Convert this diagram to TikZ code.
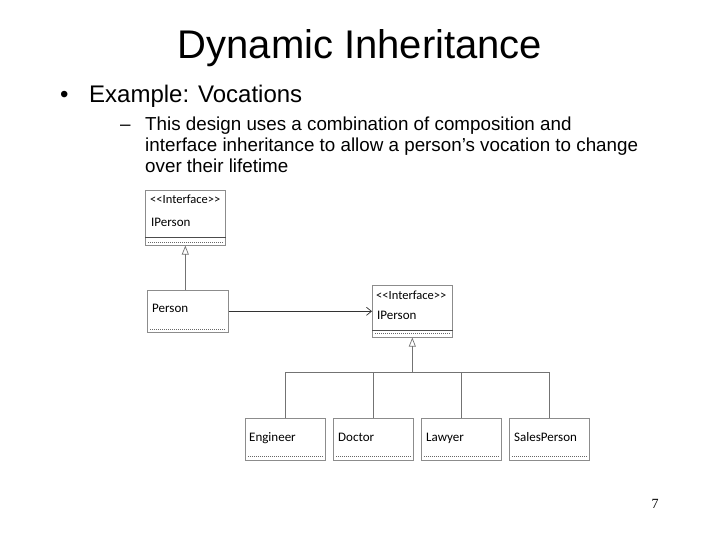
\documentclass[tikz,border=0pt]{standalone}
\usepackage{fontspec}
\setmainfont{Liberation Sans}
\newfontfamily\umlfont{Carlito}
\newfontfamily\numfont{Liberation Serif}
\usetikzlibrary{arrows.meta,calc}
\tikzset{
  box/.style={draw=black!45, line width=0.6pt, rectangle, minimum width=80pt, inner sep=0pt, anchor=north west},
  lbl/.style={anchor=base west, inner sep=0pt, font=\umlfont\fontsize{13}{15}\selectfont},
  stereo/.style={anchor=base west, inner sep=0pt, font=\umlfont\fontsize{12.5}{14}\selectfont},
  sep/.style={draw=black!70, line width=0.6pt},
  dots/.style={draw=black!60, line width=0.6pt, dash pattern=on 1pt off 1pt},
  gen/.style={draw=black!55, line width=0.7pt, -{Triangle[open, length=9pt, width=7pt]}},
  assoc/.style={draw=black!80, line width=0.7pt, -{Straight Barb[length=5pt, width=8pt]}},
  wire/.style={draw=black!55, line width=0.7pt},
  txt/.style={anchor=base west, inner sep=0pt},
  subline/.style={txt, font=\fontsize{18.8}{21}\selectfont},
}
\begin{document}
\begin{tikzpicture}[x=1pt, y=-1pt]
\useasboundingbox (0,0) rectangle (720,540);

% texts
\node[anchor=base, inner sep=0pt, font=\fontsize{40}{44}\selectfont] (title) at (360,59) {Dynamic Inheritance};
\node[txt, font=\fontsize{24}{28}\selectfont] (bul) at (60,103) {•};
\node[txt, font=\fontsize{24}{28}\selectfont] (ex) at (89,103) {Example: Vocations};
\node[subline] (dash) at (120,131) {–};
\node[subline] (sub1) at (145,131) {This design uses a combination of composition and};
\node[subline] (sub2) at (145,152) {interface inheritance to allow a person’s vocation to change};
\node[subline] (sub3) at (145,173) {over their lifetime};
\node[anchor=base, inner sep=0pt, font=\numfont\fontsize{14}{16}\selectfont] (num) at (655,508) {7};

% top IPerson
\node[box, minimum height=55pt] (ip1) at (145,190) {};
\node[stereo] (ip1s) at (150,204) {<{}<Interface>{}>};
\node[lbl] (ip1n) at (151,226) {IPerson};
\draw[sep] ($(ip1.south west)+(0,-8)$) -- ($(ip1.south east)+(0,-8)$);
\draw[dots] ($(ip1.south west)+(3,-3)$) -- ($(ip1.south east)+(-3,-3)$);

% Person
\node[box, minimum height=42pt, minimum width=81pt] (person) at (147,290) {};
\node[lbl] (personn) at (152,312) {Person};
\draw[dots] ($(person.south west)+(3,-3)$) -- ($(person.south east)+(-3,-3)$);

% second IPerson
\node[box, minimum height=52pt] (ip2) at (372,285) {};
\node[stereo] (ip2s) at (376,299) {<{}<Interface>{}>};
\node[lbl] (ip2n) at (377,319) {IPerson};
\draw[sep] ($(ip2.south west)+(0,-7)$) -- ($(ip2.south east)+(0,-7)$);
\draw[dots] ($(ip2.south west)+(3,-4)$) -- ($(ip2.south east)+(-3,-4)$);

% vocations
\node[box, minimum height=42pt] (eng) at (245,418) {};
\node[lbl] (engn) at (249,441) {Engineer};
\node[box, minimum height=42pt] (doc) at (333,418) {};
\node[lbl] (docn) at (338,441) {Doctor};
\node[box, minimum height=42pt] (law) at (421,418) {};
\node[lbl] (lawn) at (426,441) {Lawyer};
\node[box, minimum height=42pt] (sal) at (509,418) {};
\node[lbl] (saln) at (514,441) {SalesPerson};
\foreach \b in {eng,doc,law,sal}{
  \draw[dots] ($(\b.south west)+(3,-4)$) -- ($(\b.south east)+(-3,-4)$);
}

% connectors
\draw[gen] (ip1.south |- person.north) -- (ip1.south);
\draw[assoc] (person.east) -- (ip2.west |- person.east);
\coordinate (bus) at ($(ip2.south)+(0,35)$);
\draw[gen] (bus) -- (ip2.south);
\draw[wire] (eng.north) -- (eng.north |- bus) -- (sal.north |- bus) -- (sal.north);
\draw[wire] (doc.north) -- (doc.north |- bus);
\draw[wire] (law.north) -- (law.north |- bus);
\end{tikzpicture}
\end{document}
